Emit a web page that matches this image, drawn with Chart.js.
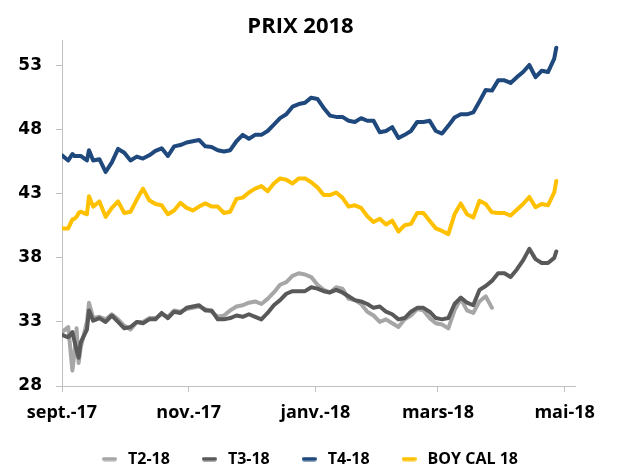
<!DOCTYPE html>
<html>
<head>
<meta charset="utf-8">
<script src="https://cdn.jsdelivr.net/npm/chart.js@4.4.1/dist/chart.umd.min.js"></script>
<style>
html,body{margin:0;padding:0;background:#fff;}
#wrap{width:621px;height:474px;}
</style>
</head>
<body>
<div id="wrap"><canvas id="c" width="621" height="474"></canvas></div>
<script>
const dates = [
'2017-09-01','2017-09-04','2017-09-06','2017-09-07','2017-09-08','2017-09-09','2017-09-10','2017-09-13','2017-09-14','2017-09-16',
'2017-09-19','2017-09-22','2017-09-25','2017-09-28','2017-10-01','2017-10-04','2017-10-07','2017-10-10','2017-10-13','2017-10-16',
'2017-10-19','2017-10-22','2017-10-25','2017-10-28','2017-10-31','2017-11-03','2017-11-06','2017-11-09','2017-11-12','2017-11-15',
'2017-11-18','2017-11-21','2017-11-24','2017-11-27','2017-11-30','2017-12-03','2017-12-06','2017-12-09','2017-12-12','2017-12-15',
'2017-12-18','2017-12-21','2017-12-24','2017-12-27','2017-12-30','2018-01-02','2018-01-05','2018-01-08','2018-01-11','2018-01-14',
'2018-01-17','2018-01-20','2018-01-23','2018-01-26','2018-01-29','2018-02-01','2018-02-04','2018-02-07','2018-02-10','2018-02-13',
'2018-02-16','2018-02-19','2018-02-22','2018-02-25','2018-02-28','2018-03-03','2018-03-06','2018-03-09','2018-03-12','2018-03-15',
'2018-03-18','2018-03-21','2018-03-24','2018-03-27','2018-03-30','2018-04-02','2018-04-05','2018-04-08','2018-04-11','2018-04-14',
'2018-04-17','2018-04-20','2018-04-23','2018-04-26','2018-04-27'
];

const t2_18 = [
32.2,32.6,29.2,30.6,32.5,29.8,31.0,33.0,34.5,33.3,
33.4,33.2,33.6,33.2,32.7,32.4,33.0,33.0,33.3,33.3,
33.6,33.4,33.9,33.8,34.0,34.1,34.2,34.0,33.8,33.4,
33.5,33.9,34.2,34.3,34.5,34.6,34.4,34.8,35.3,35.9,
36.1,36.6,36.8,36.7,36.5,35.9,35.5,35.3,35.7,35.6,
34.8,34.7,34.4,33.8,33.5,33.0,33.2,32.9,32.6,33.2,
33.5,34.0,33.9,33.3,32.9,32.8,32.5,33.9,34.8,33.9,
33.7,34.6,35.0,34.1,null,null,null,null,null,null,
null,null,null,null,null
];

const t3_18 = [
32.0,31.8,32.2,31.5,30.8,30.2,31.4,32.4,33.9,33.1,
33.3,33.0,33.5,33.0,32.5,32.6,33.0,32.9,33.2,33.2,
33.7,33.3,33.8,33.7,34.1,34.2,34.3,33.9,33.9,33.2,
33.2,33.3,33.5,33.4,33.6,33.4,33.2,33.7,34.3,34.7,
35.2,35.4,35.4,35.4,35.7,35.6,35.4,35.3,35.5,35.3,
35.0,34.7,34.6,34.4,34.1,34.2,33.8,33.6,33.2,33.3,
33.8,34.1,34.1,33.8,33.3,33.2,33.3,34.4,34.9,34.5,
34.3,35.5,35.8,36.2,36.8,36.8,36.5,37.1,37.8,38.7,
37.9,37.6,37.6,38.0,38.5
];

const t4_18 = [
46.0,45.6,46.1,45.95,45.95,45.95,45.95,45.6,46.4,45.6,
45.7,44.7,45.45,46.5,46.2,45.6,45.9,45.75,46.0,46.35,
46.55,45.95,46.7,46.8,47.0,47.1,47.2,46.7,46.65,46.4,
46.3,46.4,47.1,47.6,47.3,47.6,47.6,47.9,48.4,48.9,
49.2,49.8,50.0,50.1,50.5,50.4,49.7,49.1,49.0,49.0,
48.7,48.6,48.9,48.7,48.7,47.8,47.9,48.2,47.35,47.6,
47.9,48.6,48.6,48.7,47.9,47.7,48.3,48.95,49.2,49.2,
49.35,50.2,51.1,51.05,51.85,51.85,51.65,52.1,52.5,53.05,
52.1,52.6,52.5,53.55,54.4
];

const boyCal18 = [
40.3,40.3,41.0,41.05,41.2,41.5,41.6,41.4,42.8,42.0,
42.4,41.2,41.9,42.4,41.5,41.6,42.55,43.4,42.5,42.2,
42.1,41.4,41.7,42.3,41.9,41.7,42.0,42.25,42.0,42.0,
41.5,41.6,42.6,42.7,43.1,43.4,43.6,43.2,43.8,44.2,
44.1,43.8,44.2,44.2,43.9,43.5,42.9,42.9,43.1,42.7,
42.0,42.1,41.9,41.25,40.8,41.05,40.6,40.9,40.05,40.55,
40.65,41.5,41.5,40.9,40.3,40.1,39.85,41.4,42.25,41.4,
41.15,42.45,42.2,41.55,41.5,41.5,41.3,41.75,42.2,42.75,
41.95,42.2,42.1,43.1,44.0
];

const seriesNames = ['T2-18','T3-18','T4-18','BOY CAL 18'];
const xTickDates = ['2017-09-01','2017-11-01','2018-01-01','2018-03-01','2018-05-01'];
const xTickLabels = ['sept.-17','nov.-17','janv.-18','mars-18','mai-18'];
const xEndDate = '2018-05-06';
const yTicks = [28,33,38,43,48,53];
const yMin = 28, yMax = 55;

const DAY = 86400000;
const origin = Date.parse(xTickDates[0]);
const toDay = d => (Date.parse(d) - origin) / DAY;
const xs = dates.map(toDay);
const pts = arr => arr.map((v,i) => ({x: xs[i], y: v}));
const xTickDays = xTickDates.map(toDay);

const colors = ['#a6a6a6','#595959','#1f497d','#ffc000'];
const values = [t2_18, t3_18, t4_18, boyCal18];
const orders = [1,0,0,0];

// legend marker images (short thick line)
function marker(color) {
  const cv = document.createElement('canvas');
  cv.width = 15; cv.height = 5;
  const g = cv.getContext('2d');
  g.fillStyle = color;
  g.beginPath();
  if (g.roundRect) g.roundRect(0, 0.5, 15, 4, 2); else g.rect(0, 0.5, 15, 4);
  g.fill();
  return cv;
}
const markers = colors.map(marker);

const datasets = values.map((arr,i) => ({
  label: seriesNames[i],
  data: pts(arr),
  borderColor: colors[i],
  backgroundColor: colors[i],
  borderWidth: 4,
  pointRadius: 0,
  pointHoverRadius: 0,
  tension: 0,
  spanGaps: false,
  borderJoinStyle: 'round',
  borderCapStyle: 'round',
  order: orders[i]
}));

const axisColor = '#bfbfbf';
const LEGEND_H = 52;
const LEGEND_SHIFT = 8;
const XAXIS_H = 36;

const legendFix = {
  id: 'legendFix',
  beforeLayout(chart) {
    const lg = chart.legend;
    if (lg && !lg.__patched) {
      const origFit = lg.fit.bind(lg);
      lg.fit = function () {
        origFit();
        this.height = LEGEND_H;
        if (this.lineWidths && this.lineWidths.length) this.lineWidths[0] -= 2 * LEGEND_SHIFT;
      };
      lg.__patched = true;
    }
  }
};

new Chart(document.getElementById('c'), {
  type: 'line',
  data: { datasets },
  plugins: [legendFix],
  options: {
    responsive: false,
    animation: false,
    events: [],
    layout: { autoPadding: false, padding: { left: 0, right: 20, top: 0, bottom: 0 } },
    plugins: {
      title: {
        display: true,
        text: 'PRIX 2018',
        color: '#000',
        font: { family: 'Open Sans', size: 22, weight: 'bold' },
        padding: { top: 13.5, bottom: 0.1 }
      },
      legend: {
        position: 'bottom',
        labels: {
          color: '#000',
          font: { family: 'Open Sans', size: 16, weight: 'bold' },
          usePointStyle: true,
          pointStyleWidth: 21,
          boxHeight: 4,
          padding: 29,
          sort: (a,b) => a.datasetIndex - b.datasetIndex,
          generateLabels: (chart) => {
            const items = Chart.defaults.plugins.legend.labels.generateLabels(chart);
            items.forEach(it => { it.pointStyle = markers[it.datasetIndex]; it.lineWidth = 0; });
            return items;
          }
        }
      },
      tooltip: { enabled: false }
    },
    scales: {
      x: {
        type: 'linear',
        min: 0,
        max: toDay(xEndDate),
        afterBuildTicks: (s) => { s.ticks = xTickDays.map(v => ({value: v})); },
        afterFit: (s) => { s.height = XAXIS_H; },
        ticks: {
          autoSkip: false,
          maxRotation: 0,
          minRotation: 0,
          padding: 10,
          color: '#000',
          font: { family: 'Open Sans', size: 18, weight: 'bold' },
          callback: (v) => { const k = xTickDays.indexOf(v); return k >= 0 ? xTickLabels[k] : ''; }
        },
        grid: { drawOnChartArea: false, drawTicks: true, tickLength: 6, color: axisColor, lineWidth: 1 },
        border: { display: true, color: axisColor, width: 1 }
      },
      y: {
        type: 'linear',
        position: 'left',
        min: yMin,
        max: yMax,
        afterBuildTicks: (s) => { s.ticks = yTicks.map(v => ({value: v})); },
        afterFit: (s) => { s.width = 62; },
        ticks: {
          padding: 14,
          color: '#000',
          font: { family: 'DejaVu Sans', size: 17, weight: 'bold' }
        },
        grid: { drawOnChartArea: false, drawTicks: true, tickLength: 6, color: axisColor, lineWidth: 1 },
        border: { display: true, color: axisColor, width: 1 }
      },
      yRight: {
        type: 'linear',
        position: 'right',
        display: true,
        min: yMin,
        max: yMax,
        afterFit: (s) => { s.width = 26; },
        ticks: { display: false },
        grid: { display: false, drawTicks: false },
        border: { display: false }
      }
    }
  }
});
</script>
</body>
</html>
